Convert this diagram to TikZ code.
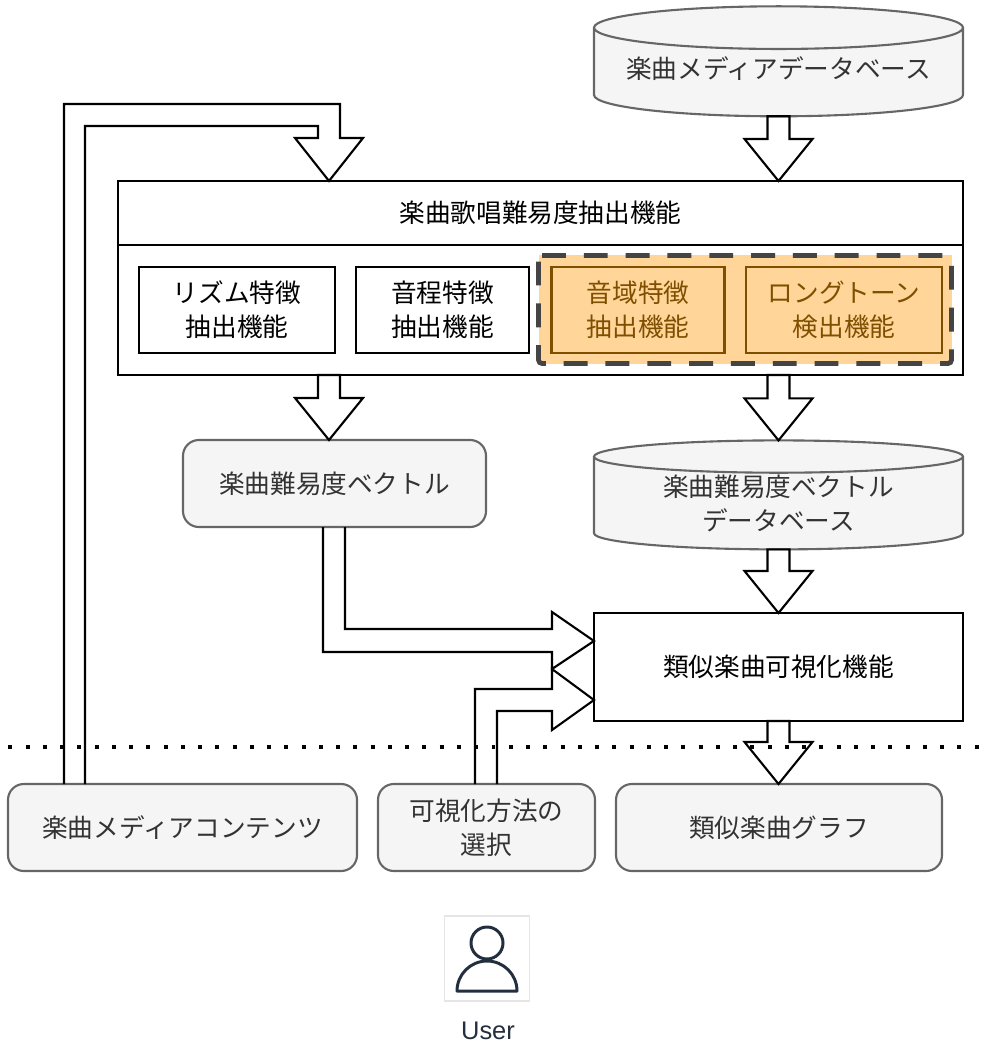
\documentclass[tikz,border=0pt]{standalone}
\usepackage{fontspec}
\setmainfont{Noto Sans CJK JP}
\newfontfamily\userfont{Liberation Sans}
\usetikzlibrary{shapes.geometric,calc}
\definecolor{grayfill}{HTML}{F5F5F5}
\definecolor{grayline}{HTML}{666666}
\definecolor{graytext}{HTML}{333333}
\definecolor{orangefill}{HTML}{FFD599}
\definecolor{orangeline}{HTML}{7F4F00}
\definecolor{groupline}{HTML}{444444}
\definecolor{usercolor}{HTML}{232F3E}
\def\u{0.02cm}
\newcommand{\dbpad}{\rule[-6pt]{0pt}{6pt}}
\tikzset{
    label font/.style={font=\fontsize{14.6pt}{19.3pt}\selectfont, align=center},
    plainbox/.style={draw=black, line width=1.2pt, fill=white, outer sep=0pt, inner sep=0pt, label font},
    funcbox/.style={plainbox, minimum width=#1*\u, minimum height=86*\u},
    orangebox/.style={funcbox=#1, draw=orangeline, fill=orangefill, text=orangeline},
    graybox/.style={draw=grayline, line width=1.2pt, fill=grayfill, text=graytext, rounded corners=9pt, outer sep=0pt, inner sep=0pt, label font, minimum width=#1*\u, minimum height=87*\u},
    dbshape/.style={cylinder, shape border rotate=90, aspect=0.14, draw=grayline, line width=1.2pt, fill=grayfill, text=graytext, outer sep=0pt, inner sep=0pt, label font, minimum width=369*\u, minimum height=#1*\u},
    blockarrow/.style={draw=black, line width=1.2pt, line join=miter, miter limit=10},
}
% block arrow pointing down, #1 base and #2 tip
\newcommand{\downblock}[2]{
    \draw[blockarrow] ($(#1)+(-11,0)$) -- ($(#2)+(-11,-42)$) -- ($(#2)+(-34,-42)$) -- (#2)
        -- ($(#2)+(34,-42)$) -- ($(#2)+(11,-42)$) -- ($(#1)+(11,0)$) -- cycle;
}
\begin{document}
\begin{tikzpicture}[x=\u, y=-\u]
    \useasboundingbox (0,0) rectangle (982,1043);

    % databases
    \node[dbshape=110] (mediadb) at (778.5,72.5) {楽曲メディアデータベース\dbpad};
    \node[dbshape=109] (vecdb) at (778.5,503.5) {楽曲難易度ベクトル\\データベース};

    % extraction block
    \node[plainbox, minimum width=845*\u, minimum height=64*\u] (extract) at (540.5,213) {楽曲歌唱難易度抽出機能};
    \node[plainbox, minimum width=845*\u, minimum height=130*\u] (extractbody) at (540.5,310) {};
    \node[funcbox=196] (rhythm) at (237,310) {リズム特徴\\抽出機能};
    \node[funcbox=173] (pitch) at (442.5,310) {音程特徴\\抽出機能};
    \node[fill=orangefill, outer sep=0pt, minimum width=413*\u, minimum height=108*\u] (group) at (745,309.5) {};
    \draw[groupline, line width=2.7pt, dash pattern=on 13.6pt off 10.2pt, rounded corners=2pt]
        (group.north west) -- (group.north east) -- (group.south east) -- (group.south west) -- cycle;
    \node[orangebox=173] (range) at (638,310) {音域特徴\\抽出機能};
    \node[orangebox=196] (longtone) at (844,310) {ロングトーン\\検出機能};

    % lower boxes
    \node[graybox=303] (vec) at (334.5,483.5) {楽曲難易度ベクトル};
    \node[plainbox, minimum width=369*\u, minimum height=108*\u] (similar) at (778.5,667) {類似楽曲可視化機能};
    \node[graybox=349] (media) at (182.5,827.5) {楽曲メディアコンテンツ};
    \node[graybox=217] (select) at (486.5,827.5) {可視化方法の\\選択};
    \node[graybox=326] (graph) at (779,827.5) {類似楽曲グラフ};

    % straight block arrows
    \downblock{mediadb.south}{mediadb.south |- extract.north}
    \downblock{329,0 |- extractbody.south}{vec.north -| 329,0}
    \downblock{vecdb.north |- extractbody.south}{vecdb.north}
    \downblock{vecdb.south}{similar.north}
    \downblock{similar.south}{similar.south |- graph.north}

    % bent block arrows
    \draw[blockarrow] (64,0 |- media.north) -- (64,104) -- (340,104) -- (340,138) -- (363,138)
        -- (329,0 |- extract.north) -- (295,138) -- (318,138) -- (318,126) -- (85,126) -- (85,0 |- media.north);
    \draw[blockarrow] (323,0 |- vec.south) -- (323,652) -- (552,652) -- (552,669)
        -- (similar.west |- 0,641) -- (552,612) -- (552,629) -- (345,629) -- (345,0 |- vec.south);
    \draw[blockarrow] (475,0 |- select.north) -- (475,689) -- (552,689) -- (552,669)
        -- (similar.west |- 0,700) -- (552,730) -- (552,711) -- (497,711) -- (497,0 |- select.north);

    % user boundary
    \coordinate (lineleft) at (8.4,747);
    \coordinate (lineright) at (984,747);
    \draw[line width=2.27pt, dash pattern=on 2.27pt off 7.55pt] (lineleft) -- (lineright);

    % user icon
    \node[draw=black!10, line width=0.6pt, outer sep=0pt, minimum size=85*\u] (usericon) at (487,958.5) {};
    \draw[usercolor, line width=1.7pt] (487,943) circle (16*\u);
    \draw[usercolor, line width=1.7pt, line join=round] (457,991) arc[start angle=180, end angle=0, radius=30*\u] -- cycle;
    \node[text=usercolor, font=\userfont\fontsize{14.5pt}{17pt}\selectfont, inner sep=0pt] (user) at (488,1031) {User};
\end{tikzpicture}
\end{document}
